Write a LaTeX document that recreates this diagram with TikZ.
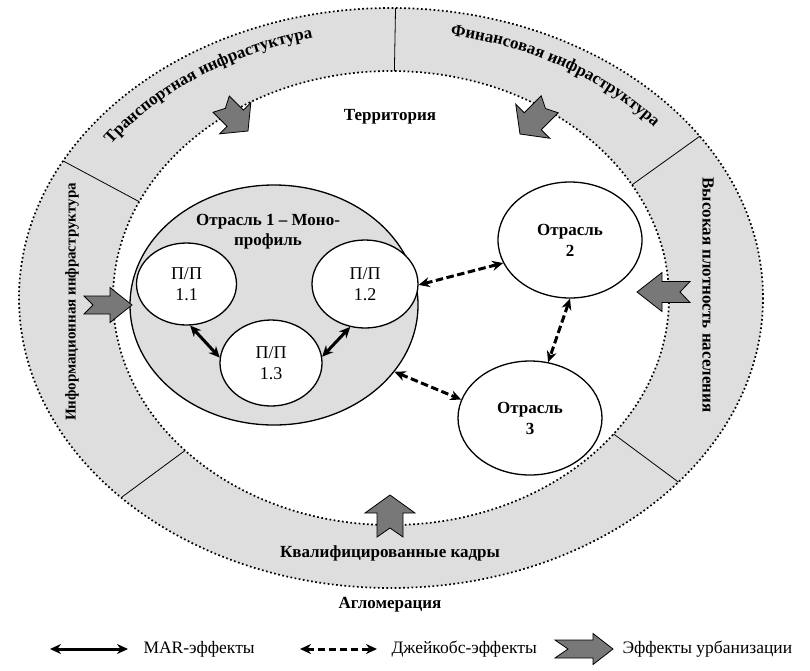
\documentclass[tikz,border=0pt]{standalone}
\usepackage{fontspec}
\setmainfont{Liberation Serif}
\usetikzlibrary{shapes.geometric, arrows.meta, decorations.text}
\definecolor{ringgray}{RGB}{222,222,222}
\definecolor{arrgray}{RGB}{120,120,120}
\newcommand\urbarrow[8]{%
  \begin{scope}[shift={(#1,#2)},rotate=#3]
    \draw[urb] (0,0) -- (-#5,#7) -- (-#5,#6) -- (-#4,#6) -- ({-#4+#8},0) -- (-#4,-#6) -- (-#5,-#6) -- (-#5,-#7) -- cycle;
  \end{scope}}
\newcommand\ringline[2]{%
  \draw[divider] ({391+372*cos(#1)},{298-290*sin(#1)}) -- ({391+278*cos(#2)},{298-227*sin(#2)});}
\begin{document}
\begin{tikzpicture}[x=1pt,y=-1pt,
 dotline/.style={line width=1.7pt, dash pattern=on 1.7pt off 2.5pt},
 divider/.style={line width=0.8pt},
 ringlabel/.style={font=\fontsize{17}{20}\selectfont\bfseries},
 ellnode/.style={ellipse, draw, line width=1.3pt, fill=white, inner sep=0pt, align=center},
 pp/.style={ellnode, font=\fontsize{18}{21}\selectfont},
 otr/.style={ellnode, font=\fontsize{17}{21}\selectfont\bfseries},
 monolbl/.style={align=center, inner sep=0pt, font=\fontsize{17}{20}\selectfont\bfseries},
 mar/.style={line width=3pt, {Stealth[length=11pt,width=10pt]}-{Stealth[length=11pt,width=10pt]}},
 jac/.style={mar, dash pattern=on 7.5pt off 3.5pt},
 urb/.style={draw, line width=0.8pt, fill=arrgray, line join=miter},
 legend/.style={font=\fontsize{17.5}{20}\selectfont, anchor=west},
]
\useasboundingbox (0,0) rectangle (810,670);
% ring
\fill[ringgray, even odd rule] (391,298) ellipse [x radius=372, y radius=290] (391,298) ellipse [x radius=278, y radius=227];
\draw[dotline] (391,298) ellipse [x radius=372, y radius=290];
\draw[dotline] (391,298) ellipse [x radius=278, y radius=227];
\ringline{89.3}{89.3}
\ringline{151.8}{154.9}
\ringline{33.9}{29.9}
\ringline{223.5}{222.2}
\ringline{-39.4}{-36.8}
% curved ring texts
\path[decorate, decoration={text along path, text align=left,
  text={|\fontsize{17}{20}\selectfont\bfseries|Транспортная инфрастуктура}}]
  plot[domain=0:1, samples=90] ({391+342*cos(145-75*\x)}, {298-267*sin(145-75*\x)});
\path[decorate, decoration={text along path, text align=left,
  text={|\fontsize{17}{20}\selectfont\bfseries|Финансовая инфраструктура}}]
  plot[domain=0:1, samples=90] ({391+342*cos(80-75*\x)}, {298-267*sin(80-75*\x)});
% straight ring texts
\node[font=\fontsize{15}{18}\selectfont\bfseries, rotate=90] (info) at (72,302) {Информационная инфраструктура};
\node[ringlabel, rotate=-90] (dens) at (708,295) {Высокая плотность населения};
\node[ringlabel] (kadry) at (390,553) {Квалифицированные кадры};
\node[ringlabel] (aggl) at (390,605) {Агломерация};
\node[ringlabel] (terr) at (390,117) {Территория};
% industry 1
\node[ellipse, draw, line width=1.3pt, fill=ringgray, minimum width=288pt, minimum height=240pt, inner sep=0pt] (mono) at (274,305) {};
\node[monolbl] (monotxt) at (268,232) {Отрасль 1 – Моно-\\профиль};
\node[pp, minimum width=100pt, minimum height=82pt] (p11) at (186.5,284) {П/П\\1.1};
\node[pp, minimum width=106pt, minimum height=88pt] (p12) at (365,284) {П/П\\1.2};
\node[pp, minimum width=102pt, minimum height=86pt] (p13) at (271,363) {П/П\\1.3};
\node[otr, minimum width=144pt, minimum height=116pt] (o2) at (570,240) {Отрасль\\2};
\node[otr, minimum width=144pt, minimum height=114pt] (o3) at (530,418) {Отрасль\\3};
% connectors
\draw[mar] (p11.-85) -- (p13.174);
\draw[mar] (p12.-109) -- (p13.7);
\draw[jac] (p12.-1) -- (o2.199);
\draw[jac] (mono.-29.4) -- (o3.165);
\draw[jac] (o2.-90) -- (o3.72);
% urbanization arrows
\urbarrow{132}{305}{0}{48}{22}{9}{17.5}{9}
\urbarrow{637}{292}{180}{53}{25}{10.5}{19.5}{10}
\urbarrow{390}{495}{90}{42}{18}{13}{25}{9}
\urbarrow{248}{131}{-45}{38}{18}{11.5}{22}{6}
\urbarrow{520}{134}{-135}{42}{18}{12}{24}{6}
% legend
\coordinate (m1) at (50,649);
\coordinate (m2) at (128,649);
\draw[mar] (m1) -- (m2);
\node[legend] (marl) at (140,649) {MAR-эффекты};
\coordinate (j1) at (300,649);
\coordinate (j2) at (377,649);
\draw[jac] (j1) -- (j2);
\node[legend] (jacl) at (388,649) {Джейкобс-эффекты};
\urbarrow{613}{649}{0}{58}{20}{9}{15.5}{13}
\node[legend] (urbl) at (619,649) {Эффекты урбанизации};
\end{tikzpicture}
\end{document}
